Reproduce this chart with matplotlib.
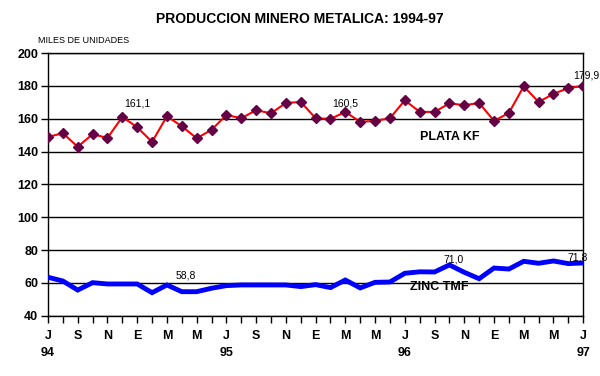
import matplotlib
matplotlib.use("Agg")
import matplotlib.pyplot as plt
import numpy as np

plt.rcParams['font.family'] = ['Liberation Sans', 'DejaVu Sans']

month_labels = ["J", "S", "N", "E", "M", "M", "J", "S", "N", "E", "M", "M",
                "J", "S", "N", "E", "M", "M", "J"]
year_labels = ["94", "95", "96", "97"]

plata = [148.9, 151.2, 142.9, 150.6, 148.3, 161.1, 154.8, 145.9, 161.5, 155.4,
         148.1, 153.2, 162.3, 160.3, 165.2, 163.3, 169.6, 170.2, 160.3, 159.9,
         164.1, 158.1, 158.7, 160.3, 171.2, 164.2, 164.1, 169.4, 168.2, 169.6,
         158.7, 163.5, 179.7, 170.2, 175.1, 178.7, 179.9]
zinc = [63.5, 61.2, 55.7, 60.2, 59.4, 59.4, 59.4, 54.1, 58.8, 54.7,
        54.7, 56.8, 58.4, 58.8, 58.8, 58.8, 58.8, 57.8, 59.0, 57.2,
        61.8, 57.0, 60.4, 60.6, 65.9, 66.8, 66.7, 71.0, 66.5, 62.6,
        69.1, 68.5, 73.2, 72.0, 73.4, 71.8, 72.2]

x = np.arange(len(plata))

fig = plt.figure(figsize=(6.0, 3.76), dpi=100)
ax = fig.add_axes([0.08, 0.16, 0.892, 0.699])

for v in range(40, 201, 20):
    ax.axhline(v, color='black', lw=1.0, zorder=1)

ax.plot(x, plata, color='#ff0000', lw=1.5, zorder=3)
ax.plot(x, plata, linestyle='none', marker='D', ms=4.8, color='#660044',
        markeredgecolor='#660044', zorder=4)
ax.plot(x, zinc, color='#0000ff', lw=3.5, zorder=3, solid_joinstyle='miter')

ax.set_xlim(0, len(plata) - 1)
ax.set_ylim(40, 200)
ax.set_yticks(range(40, 201, 20))
ax.set_yticklabels([str(v) for v in range(40, 201, 20)], fontsize=9,
                   fontweight='bold')
ax.set_xticks(np.arange(0, len(plata), 2))
ax.set_xticklabels(month_labels, fontsize=9, fontweight='bold')
ax.set_xticks(x, minor=True)
ax.tick_params(axis='x', which='both', length=5, width=1, direction='out',
               pad=5, color='black')
ax.tick_params(axis='y', length=5, width=1, direction='out', pad=2)

for i, yl in enumerate(year_labels):
    ax.text(i * 12, -0.12, yl, transform=ax.get_xaxis_transform(),
            ha='center', va='top', fontsize=9, fontweight='bold')

for s in ['left', 'right', 'bottom', 'top']:
    ax.spines[s].set_linewidth(1.0)
    ax.spines[s].set_color('black')

ax.text(6, 166, "161,1", fontsize=7.5, ha='center', va='bottom')
ax.text(20, 166, "160,5", fontsize=7.5, ha='center', va='bottom')
ax.text(36.2, 183.5, "179,9", fontsize=7.5, ha='center', va='bottom')
ax.text(9.3, 61.5, "58,8", fontsize=7.5, ha='center', va='bottom')
ax.text(27.3, 71.5, "71,0", fontsize=7.5, ha='center', va='bottom')
ax.text(35.6, 72.5, "71,8", fontsize=7.5, ha='center', va='bottom')
ax.text(27.0, 149, "PLATA KF", fontsize=9, fontweight='bold', ha='center',
        va='center')
ax.text(26.3, 57.5, "ZINC TMF", fontsize=9, fontweight='bold', ha='center',
        va='center')

fig.text(0.5, 0.950, "PRODUCCION MINERO METALICA: 1994-97", ha='center',
         va='center', fontsize=10, fontweight='bold')
fig.text(0.063, 0.893, "MILES DE UNIDADES", ha='left', va='center',
         fontsize=6.5)

fig.savefig("out.png", dpi=100)
